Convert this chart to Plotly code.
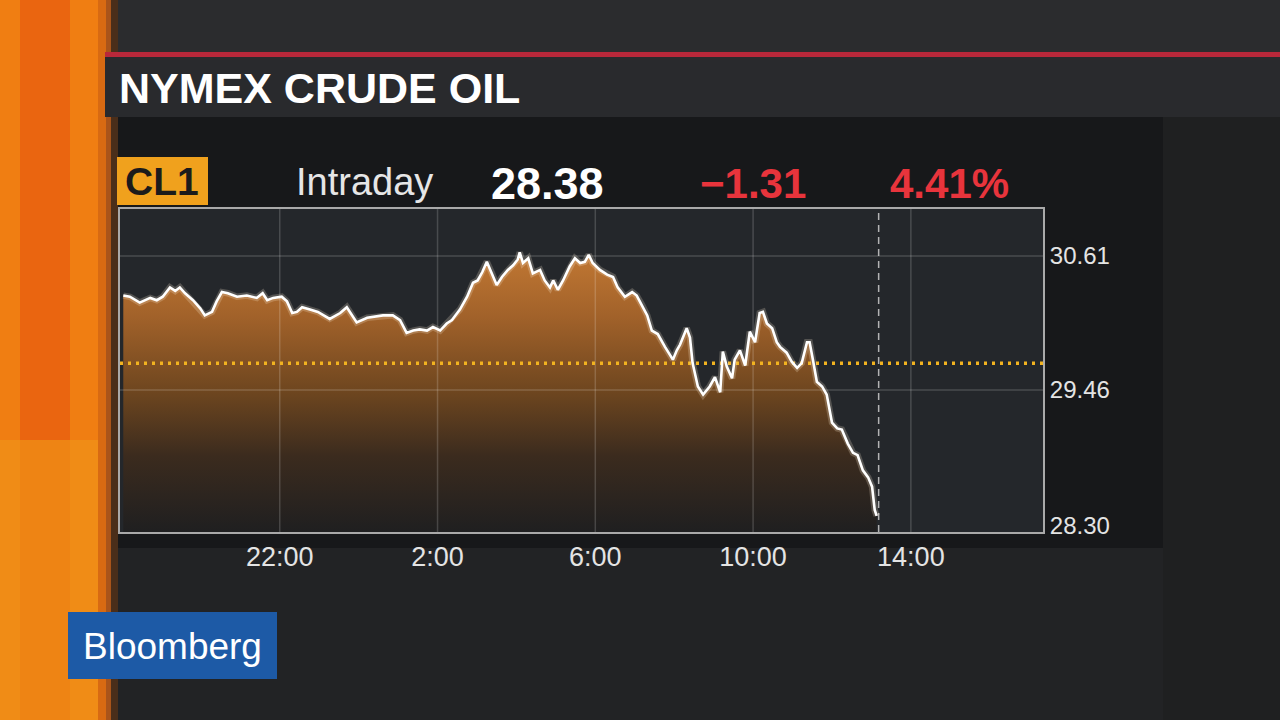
import pandas as pd
import plotly.graph_objects as go

# ---------------- data ----------------
symbol = "CL1"
title = "NYMEX CRUDE OIL"
period_label = "Intraday"
last_price = 28.38
net_change = -1.31
pct_change = 4.41
prev_close = 29.69

session_start = "2016-02-10 18:00"
now_minutes = 1151  # current-time marker, minutes after session start

minutes = [
    2, 12, 27, 43, 53, 62, 73, 81, 88, 96,
    108, 119, 126, 137, 144, 152, 161, 175, 190, 205,
    214, 221, 230, 243, 251, 259, 266, 274, 286, 298,
    316, 332, 342, 357, 373, 388, 397, 412, 423, 433,
    443, 453, 464, 473, 484, 494, 502, 506, 514, 525,
    534, 541, 548, 555, 563, 570, 578, 587, 595, 602,
    605, 610, 618, 625, 636, 643, 651, 656, 663, 671,
    681, 689, 697, 704, 710, 716, 727, 738, 747, 754,
    765, 776, 783, 791, 799, 806, 815, 826, 834, 838,
    844, 849, 859, 864, 868, 876, 884, 894, 902, 910,
    914, 920, 928, 932, 940, 948, 955, 963, 970, 975,
    981, 989, 996, 1001, 1011, 1019, 1027, 1034, 1042, 1046,
    1051, 1057, 1065, 1072, 1080, 1088, 1095, 1104, 1112, 1119,
    1127, 1135, 1141, 1145, 1148,
]
prices = [
    30.27, 30.26, 30.21, 30.25, 30.23, 30.26, 30.34, 30.31, 30.34, 30.29,
    30.23, 30.16, 30.10, 30.13, 30.22, 30.30, 30.29, 30.26, 30.27, 30.25,
    30.29, 30.23, 30.25, 30.26, 30.22, 30.12, 30.13, 30.17, 30.15, 30.13,
    30.07, 30.12, 30.17, 30.04, 30.08, 30.09, 30.10, 30.10, 30.06, 29.95,
    29.97, 29.98, 29.97, 30.00, 29.97, 30.03, 30.06, 30.09, 30.15, 30.26,
    30.38, 30.40, 30.47, 30.56, 30.46, 30.36, 30.43, 30.49, 30.53, 30.58,
    30.64, 30.55, 30.59, 30.46, 30.49, 30.40, 30.34, 30.40, 30.32, 30.40,
    30.52, 30.59, 30.55, 30.56, 30.62, 30.55, 30.49, 30.45, 30.43, 30.34,
    30.26, 30.30, 30.27, 30.19, 30.10, 29.97, 29.94, 29.83, 29.76, 29.72,
    29.80, 29.85, 29.99, 29.91, 29.69, 29.49, 29.42, 29.49, 29.57, 29.44,
    29.79, 29.66, 29.56, 29.72, 29.80, 29.67, 29.96, 29.87, 30.12, 30.13,
    30.03, 29.99, 29.87, 29.83, 29.78, 29.70, 29.65, 29.69, 29.87, 29.87,
    29.72, 29.53, 29.49, 29.42, 29.18, 29.13, 29.12, 29.00, 28.92, 28.90,
    28.77, 28.71, 28.63, 28.43, 28.38,
]

x_tick_labels = ["22:00", "2:00", "6:00", "10:00", "14:00"]
y_tick_values = [28.30, 29.46, 30.61]

x_range_minutes = [-3, 1401]
y_range = [28.241, 31.013]

# ---------------- derived ----------------
base = pd.Timestamp(session_start)
times = [base + pd.Timedelta(minutes=m) for m in minutes]


def tick_time(label):
    h, mm = [int(p) for p in label.split(":")]
    t = base.normalize() + pd.Timedelta(hours=h, minutes=mm)
    if t < base:
        t += pd.Timedelta(days=1)
    return t


x_tick_vals = [tick_time(l) for l in x_tick_labels]
x0 = base + pd.Timedelta(minutes=x_range_minutes[0])
x1 = base + pd.Timedelta(minutes=x_range_minutes[1])
now_t = base + pd.Timedelta(minutes=now_minutes)

FONT = "Liberation Sans"
PLOT_BG = "#24272b"

# plot area in pixels
PL, PR, PT, PB = 120, 1043, 209, 532
W, H = 1280, 720


def px(x):
    return (x - PL) / (PR - PL)


def py(y):
    return (PB - y) / (PB - PT)


fig = go.Figure()

# gradient area
fig.add_trace(go.Scatter(
    x=times, y=prices, mode="lines", line=dict(width=0, color="rgba(0,0,0,0)"),
    fill="tozeroy",
    fillgradient=dict(
        type="vertical", start=y_range[0], stop=30.65,
        colorscale=[[0, "#1f1f20"], [0.27, "#3b2b1e"], [0.5, "#6e461f"],
                    [0.77, "#a2622a"], [1, "#c27833"]],
    ),
    hoverinfo="skip",
))

# grid lines (drawn over fill)
gx, gy = [], []
for t in x_tick_vals:
    gx += [t, t, None]
    gy += [y_range[0], y_range[1], None]
for v in y_tick_values[1:]:
    gx += [x0, x1, None]
    gy += [v, v, None]
fig.add_trace(go.Scatter(x=gx, y=gy, mode="lines",
                         line=dict(color="rgba(255,255,255,0.17)", width=1.5),
                         hoverinfo="skip"))

# previous close dotted line
fig.add_trace(go.Scatter(x=[x0, x1], y=[prev_close, prev_close], mode="lines",
                         line=dict(color="#f2b320", width=3.5, dash="3px,5px"),
                         hoverinfo="skip"))

# current time marker
fig.add_trace(go.Scatter(x=[now_t, now_t], y=y_range, mode="lines",
                         line=dict(color="rgba(205,205,205,0.85)", width=1.5, dash="7px,5px"),
                         hoverinfo="skip"))

# glow + price line
fig.add_trace(go.Scatter(x=times, y=prices, mode="lines",
                         line=dict(color="rgba(255,240,220,0.22)", width=6.5),
                         hoverinfo="skip"))
fig.add_trace(go.Scatter(x=times, y=prices, mode="lines",
                         line=dict(color="#ffffff", width=2.6),
                         hoverinfo="skip"))

# ---------------- background shapes ----------------
shapes = []


def rect(xa, ya, xb, yb, color, layer="below"):
    shapes.append(dict(type="rect", xref="paper", yref="paper",
                       x0=px(xa), x1=px(xb), y0=py(yb), y1=py(ya),
                       fillcolor=color, line=dict(width=0), layer=layer))


rect(0, 0, W, 53, "#2b2c2e")
rect(115, 117, 1163, 548, "#17181a")
rect(PL, PT, PR, PB, PLOT_BG)
rect(1163, 53, W, H, "#1f2021")
rect(115, 548, 1163, H, "#222325")
# orange strip
rect(0, 0, 116, H, "#f07e12")
rect(20, 0, 70, 440, "#ea6510")
rect(0, 440, 104, H, "#f08c16")
rect(20, 440, 70, H, "#ee8414")
rect(98, 0, 108, H, "#d86a12")
rect(106, 0, 112, H, "#a9541a")
rect(111, 0, 118, H, "#4a2e1a")
# red rule and title bar
rect(105, 52, W, 57, "#b9283a")
rect(105, 57, W, 117, "#292a2d")

# CL1 badge and Bloomberg logo
rect(117, 157, 208, 205, "#f0a11d", layer="above")
rect(68, 612, 277, 679, "#1d5aa6", layer="above")

annotations = [
    dict(text=title, x=px(117), y=py(88), xanchor="left", yanchor="middle",
         font=dict(family=FONT, size=43, color="#ffffff", weight="bold")),
    dict(text=symbol, x=px(162), y=py(182), xanchor="center", yanchor="middle",
         font=dict(family=FONT, size=39, color="#1b1b1b", weight="bold")),
    dict(text=period_label, x=px(294), y=py(182), xanchor="left", yanchor="middle",
         font=dict(family=FONT, size=38, color="#e6e6e6")),
    dict(text=f"{last_price:.2f}", x=px(489), y=py(183), xanchor="left", yanchor="middle",
         font=dict(family=FONT, size=45, color="#ffffff", weight="bold")),
    dict(text=f"\u2212{abs(net_change):.2f}", x=px(698), y=py(183), xanchor="left", yanchor="middle",
         font=dict(family=FONT, size=42, color="#e8343c", weight="bold")),
    dict(text=f"{pct_change:.2f}%", x=px(888), y=py(183), xanchor="left", yanchor="middle",
         font=dict(family=FONT, size=42, color="#e8343c", weight="bold")),
    dict(text="Bloomberg", x=px(172), y=py(646), xanchor="center", yanchor="middle",
         font=dict(family=FONT, size=37, color="#ffffff")),
]
for a in annotations:
    a.update(xref="paper", yref="paper", showarrow=False)

fig.update_layout(
    width=W, height=H,
    margin=dict(l=PL, r=W - PR, t=PT, b=H - PB, pad=0),
    paper_bgcolor="#1d1e20",
    plot_bgcolor=PLOT_BG,
    showlegend=False,
    shapes=shapes,
    annotations=annotations,
    xaxis=dict(
        type="date", range=[x0, x1], tickvals=x_tick_vals, ticktext=x_tick_labels,
        showgrid=False, zeroline=False, showline=True, mirror=True,
        linecolor="#a9a9a9", linewidth=2, ticks="", ticklabelstandoff=0,
        tickfont=dict(family=FONT, size=27, color="#e4e4e4"),
    ),
    yaxis=dict(
        range=y_range, tickvals=y_tick_values,
        ticktext=[f"{v:.2f}" for v in y_tick_values], side="right",
        showgrid=False, zeroline=False, showline=True, mirror=True,
        linecolor="#a9a9a9", linewidth=2, ticks="", ticklabelstandoff=0,
        tickfont=dict(family=FONT, size=24, color="#e4e4e4"),
    ),
)

fig.write_html("out.html", config={"displayModeBar": False},
               post_script="document.body.style.margin='0';")
